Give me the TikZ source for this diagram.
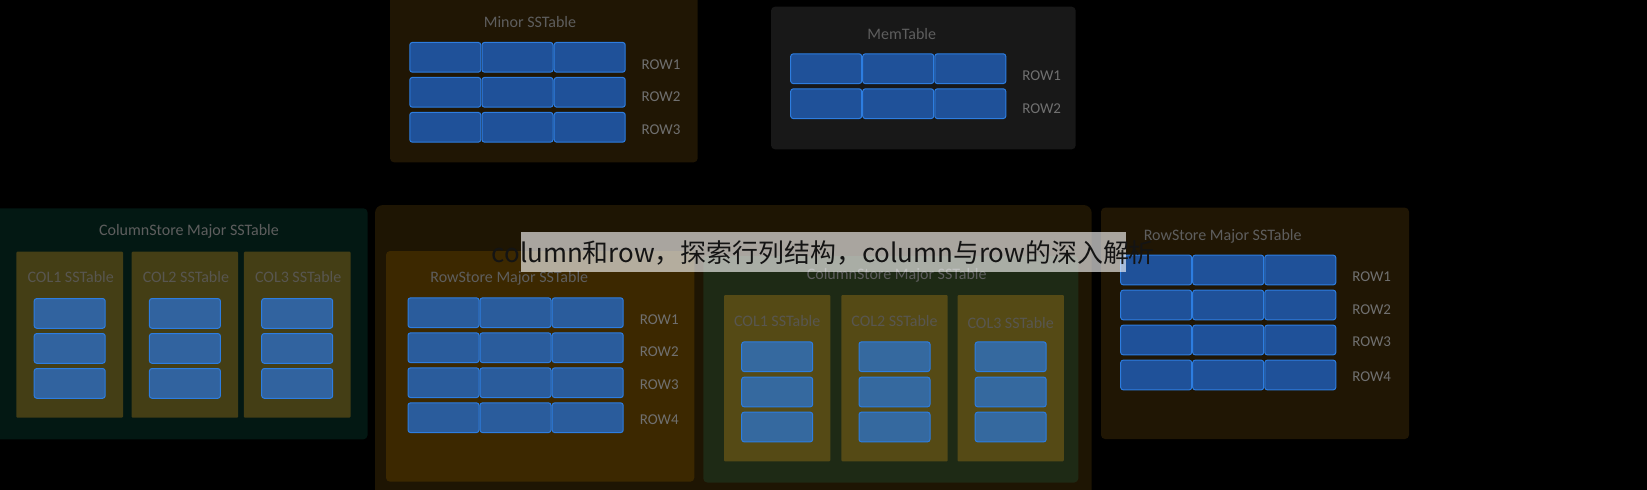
\documentclass[tikz,border=0pt]{standalone}
\usepackage{fontspec}
\setmainfont{Carlito}
\newfontfamily\cjk{Noto Sans CJK SC}
\definecolor{minorbg}{HTML}{201604}
\definecolor{membg}{HTML}{181818}
\definecolor{lcolbg}{HTML}{031813}
\definecolor{bigbg}{HTML}{1E1503}
\definecolor{rowinbg}{HTML}{3C2800}
\definecolor{colinbg}{HTML}{1E2A15}
\definecolor{colboxL}{HTML}{443E15}
\definecolor{colboxM}{HTML}{554A15}
\definecolor{cellline}{HTML}{2D7DE0}
\definecolor{cellA}{HTML}{1F5199}
\definecolor{cellB}{HTML}{2A5C9C}
\definecolor{cellC}{HTML}{31639F}
\definecolor{cellD}{HTML}{35699F}
\definecolor{titlegray}{HTML}{5E5E5E}
\definecolor{rowgray}{HTML}{707070}
\definecolor{colgray}{HTML}{585650}
\begin{document}
\begin{tikzpicture}[x=1pt,y=-1pt]
\tikzstyle{panel}=[rounded corners=4pt]
\tikzstyle{cell}=[draw=cellline,line width=1pt,fill=cellA,rounded corners=2.5pt,minimum width=71pt,minimum height=29.7pt,inner sep=0pt]
\tikzstyle{lbl}=[inner sep=0pt,text height=0.644em,text depth=0pt,yshift=-2.5pt]
\tikzstyle{title}=[lbl,text=titlegray,font=\fontsize{16}{18}\selectfont]
\tikzstyle{rowlbl}=[lbl,text=rowgray,font=\fontsize{15}{17}\selectfont]
\tikzstyle{collbl}=[lbl,text=colgray,font=\fontsize{16}{18}\selectfont]
\fill[black] (0,0) rectangle (1647,490);
\useasboundingbox (0,0) rectangle (1647,490);
% Minor SSTable
\fill[panel,minorbg] (390,-10) rectangle (697.7,162.3);
\node[title] (minor) at (530,21.7) {Minor SSTable};
\foreach \r/\y in {1/57.3,2/92.3,3/127.3}
  \foreach \c/\x in {1/445.3,2/517.5,3/589.7}
    \node[cell] (mi\r\c) at (\x,\y) {};
\foreach \r/\y in {1/63.3,2/96,3/128.3}
  \node[rowlbl] (mirow\r) at (661,\y) {ROW\r};
% MemTable
\fill[panel,membg] (771,6.7) rectangle (1075.7,149.3);
\node[title] (mem) at (901.7,33.3) {MemTable};
\foreach \r/\y in {1/68.7,2/103.7}
  \foreach \c/\x in {1/826.2,2/898.2,3/970.3}
    \node[cell] (me\r\c) at (\x,\y) {};
\foreach \r/\y in {1/75,2/107.3}
  \node[rowlbl] (merow\r) at (1041.7,\y) {ROW\r};
% ColumnStore Major SSTable, left
\fill[panel,lcolbg] (-10,208.3) rectangle (367.5,439.3);
\node[title] (lcol) at (189,230) {ColumnStore Major SSTable};
\foreach \c/\x in {1/69.7,2/184.9,3/297.2} {
  \fill[panel,rounded corners=1pt,colboxL] (\x-53.3,251.7) rectangle (\x+53.3,417.7);
  \node[collbl] (lcol\c) at (\x+1,276.7) {COL\c{} SSTable};
  \foreach \k/\y in {1/313.4,2/348.4,3/383.4}
    \node[cell,fill=cellC] (lc\c\k) at (\x,\y) {};
}
% Major SSTable, middle
\fill[panel,rounded corners=8pt,bigbg] (375,205) rectangle (1091.7,510);
\fill[panel,rowinbg] (386,251) rectangle (694.3,481.7);
\node[title] (mrow) at (509.3,276.7) {RowStore Major SSTable};
\foreach \r/\y in {1/312.7,2/347.7,3/382.7,4/417.7}
  \foreach \c/\x in {1/443.5,2/515.5,3/587.7}
    \node[cell,fill=cellB] (mr\r\c) at (\x,\y) {};
\foreach \r/\y in {1/319,2/351,3/384,4/419}
  \node[rowlbl] (mrrow\r) at (659.3,\y) {ROW\r};
\fill[panel,colinbg] (703.3,256) rectangle (1078.3,482.5);
\node[title] (mcol) at (896.7,274) {ColumnStore Major SSTable};
\foreach \c/\x/\ly in {1/777.2/321,2/894.5/321,3/1010.7/322.7} {
  \fill[panel,rounded corners=1pt,colboxM] (\x-53.2,295) rectangle (\x+53.2,461.3);
  \node[collbl] (mcol\c) at (\x,\ly) {COL\c{} SSTable};
  \foreach \k/\y in {1/356.7,2/392,3/427}
    \node[cell,fill=cellD] (mc\c\k) at (\x,\y) {};
}
% RowStore Major SSTable, right
\fill[panel,minorbg] (1101,207.7) rectangle (1409,439);
\node[title] (rrow) at (1222.7,234.3) {RowStore Major SSTable};
\foreach \r/\y in {1/270,2/305,3/340,4/375}
  \foreach \c/\x in {1/1156.2,2/1228.2,3/1300.3}
    \node[cell] (rr\r\c) at (\x,\y) {};
\foreach \r/\y in {1/275.7,2/308.7,3/340.7,4/375.7}
  \node[rowlbl] (rrrow\r) at (1371.7,\y) {ROW\r};
% caption band
\fill[white,opacity=0.62] (521,232.3) rectangle (1125.7,271.7);
\node[anchor=base,inner sep=0pt,text=black!92,font=\cjk\fontsize{25.9}{30}\selectfont] (caption) at (823.3,262.7) {column和row，探索行列结构，column与row的深入解析};
\end{tikzpicture}
\end{document}
